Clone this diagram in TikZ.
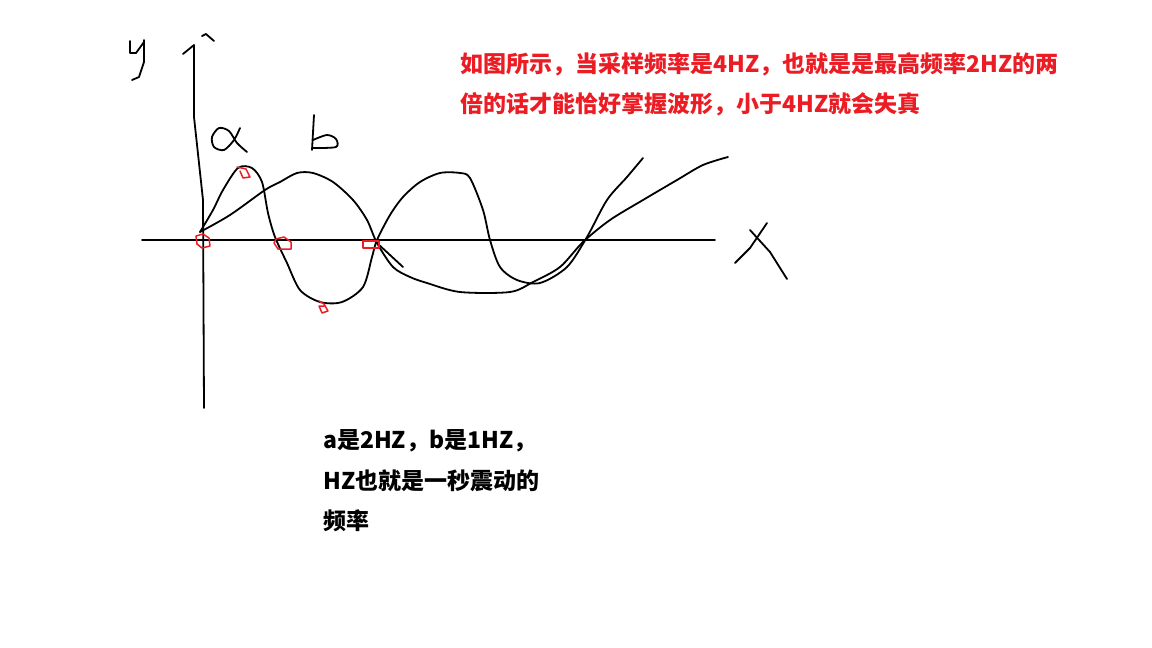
\documentclass[tikz,border=0pt]{standalone}
\usepackage{fontspec}
\newfontfamily\cjk{Noto Sans CJK SC}
\definecolor{cInk}{HTML}{000000}
\definecolor{cMark}{HTML}{EC1C24}
\tikzset{
    pen/.style     ={draw=cInk, line width=1.8pt, line cap=round, line join=round},
    markpen/.style ={draw=cMark, line width=1.5pt, line cap=round, line join=round},
    note/.style    ={anchor=base west, inner sep=0pt,
                     font=\cjk\bfseries\fontsize{23}{26}\selectfont},
    rednote/.style ={note, text=cMark},
}

\begin{document}
\begin{tikzpicture}[x=1pt, y=-1pt]
\useasboundingbox (0,0) rectangle (1152,648);

% ===================== Ejes =====================
\draw[pen] (204,408) -- (203,200) -- (194,117) -- (194,45) -- (183,54);
\draw[pen] (202,36) -- (206,34) -- (214,41);
\draw[pen] (142,240) -- (715,240);

% letras de los ejes
\draw[pen] (130,41) -- (130,53) -- (136,53) -- (144,42);
\draw[pen] (144,40) -- (144,62) -- (139,77) -- (132,80);
\draw[pen] (735,263) -- (750,248) -- (767,223);
\draw[pen] (750,230) -- (770,252) -- (787,279);

% ===================== Etiquetas a, b =====================
\draw[pen] plot[smooth] coordinates {(240,128) (234,140) (224,150) (214,147)
    (212,137) (219,128) (229,131) (237,143) (247,152)};
\draw[pen] (314,115) -- (312,150);
\draw[pen] plot[smooth] coordinates {(313,140) (327,135) (336,139) (336,147) (313,148)};

% ===================== Curva a (2 HZ) =====================
\draw[pen] plot[smooth] coordinates {(200,232) (213,210) (223,190) (238,168)
    (252,168) (262,182) (268,213) (275,237) (287,263) (300,290) (320,302)
    (342,302) (363,287) (372,257) (377,240) (390,215) (403,197) (420,182)
    (440,173) (460,173) (470,178) (483,210) (490,240) (500,267) (517,280)
    (540,283) (567,267) (587,237) (607,200) (627,177) (643,158)};

% ===================== Curva b (1 HZ) =====================
\draw[pen] plot[smooth] coordinates {(200,232) (230,215) (265,190) (280,182)
    (297,173) (313,173) (333,182) (353,200) (367,220) (377,243) (393,267)
    (410,277) (427,283) (460,292) (510,292) (533,282) (560,267) (583,242)
    (610,220) (643,200) (677,180) (703,165) (728,157)};
\draw[pen] (377,243) -- (403,267);

% ===================== Puntos de muestreo =====================
\draw[markpen] (196,236) -- (203,234) -- (209,238) -- (210,246) -- (202,248)
    -- (197,244) -- cycle;
\draw[markpen] (276,239) -- (284,237) -- (291,242) -- (291,249) -- (278,249)
    -- (274,243) -- cycle;
\draw[markpen] (363,241) rectangle (379,248);
\draw[markpen] (237,167) -- (246,169) -- (250,177) -- (243,178) -- (240,171);
\draw[markpen] (319,301) -- (324,304) -- (328,311) -- (322,313) -- (319,306)
    -- (324,306);

% ===================== Textos =====================
\node[rednote] (nota1) at (460,72)
     {如图所示，当采样频率是4HZ，也就是是最高频率2HZ的两};
\node[rednote] (nota2) at (460,112)
     {倍的话才能恰好掌握波形，小于4HZ就会失真};
\node[note] (def1) at (323,448) {a是2HZ，b是1HZ，};
\node[note] (def2) at (323,489) {HZ也就是一秒震动的};
\node[note] (def3) at (323,529) {频率};

\end{tikzpicture}
\end{document}
